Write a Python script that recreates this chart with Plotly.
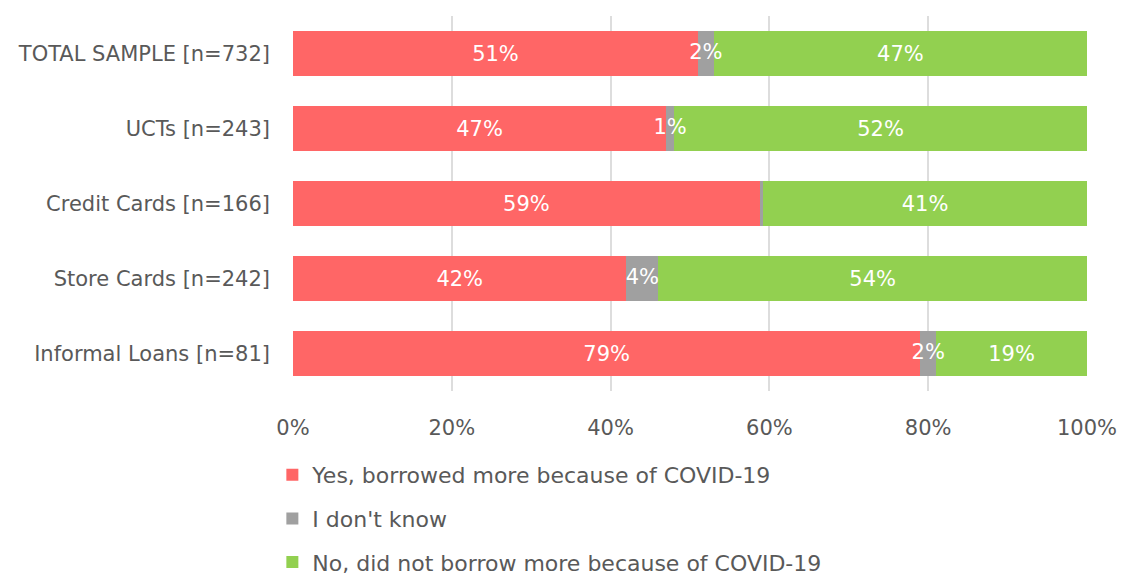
import plotly.graph_objects as go

categories = [
    "TOTAL SAMPLE [n=732]",
    "UCTs [n=243]",
    "Credit Cards [n=166]",
    "Store Cards [n=242]",
    "Informal Loans [n=81]",
]
yes_more = [51, 47, 58.8, 42, 79]
dont_know = [2, 1, 0.4, 4, 2]
no_more = [47, 52, 40.8, 54, 19]

series = [
    ("Yes, borrowed more because of COVID-19", yes_more, "#FF6666"),
    ("I don't know", dont_know, "#A0A0A0"),
    ("No, did not borrow more because of COVID-19", no_more, "#92D050"),
]

FONT = "DejaVu Sans"
GREY_TEXT = "#595959"
SIZE = 21


def pct_labels(vals):
    return [f"{v:.0f}%" if v >= 1 else "" for v in vals]


fig = go.Figure()
for i, (name, vals, color) in enumerate(series):
    # the narrow middle segment gets its labels from an overlay trace below,
    # so they can spill over the neighbouring segments
    show_inside = i != 1
    fig.add_trace(go.Bar(
        y=categories,
        x=vals,
        name=name,
        orientation="h",
        marker=dict(color=color, line=dict(width=0)),
        text=pct_labels(vals) if show_inside else None,
        textposition="inside" if show_inside else "none",
        insidetextanchor="middle",
        textangle=0,
        textfont=dict(color="white", size=SIZE, family=FONT),
        legendgroup=f"g{i}",
        hoverinfo="skip",
    ))

# labels for the "I don't know" segments, centred on each segment
dk_centres = [y + d / 2 for y, d in zip(yes_more, dont_know)]
fig.add_trace(go.Scatter(
    x=dk_centres,
    y=categories,
    mode="text",
    text=pct_labels(dont_know),
    textposition="middle center",
    textfont=dict(color="white", size=SIZE, family=FONT),
    showlegend=False,
    hoverinfo="skip",
    cliponaxis=False,
))

fig.update_layout(
    barmode="stack",
    bargap=0.41,
    width=1121,
    height=577,
    margin=dict(l=293, r=34, t=16, b=186, autoexpand=False),
    paper_bgcolor="white",
    plot_bgcolor="white",
    font=dict(family=FONT, size=SIZE, color=GREY_TEXT),
    uniformtext=dict(minsize=SIZE, mode="show"),
    showlegend=True,
    legend=dict(
        orientation="v",
        x=-0.026,
        xanchor="left",
        y=-0.168,
        yanchor="top",
        traceorder="grouped",
        tracegroupgap=12,
        font=dict(family=FONT, size=22, color=GREY_TEXT),
        itemwidth=30,
    ),
)
fig.update_xaxes(
    range=[0, 100],
    tickvals=[0, 20, 40, 60, 80, 100],
    ticktext=["0%", "20%", "40%", "60%", "80%", "100%"],
    showgrid=True,
    gridcolor="#DDDDDD",
    gridwidth=2,
    zeroline=False,
    showline=False,
    ticks="outside",
    ticklen=0,
    ticklabelstandoff=18,
    automargin=False,
    tickfont=dict(family=FONT, size=SIZE, color=GREY_TEXT),
)
fig.update_yaxes(
    autorange="reversed",
    showgrid=False,
    zeroline=False,
    showline=False,
    ticklabelstandoff=22,
    automargin=False,
    tickfont=dict(family=FONT, size=SIZE, color=GREY_TEXT),
)

fig.write_html("out.html")
